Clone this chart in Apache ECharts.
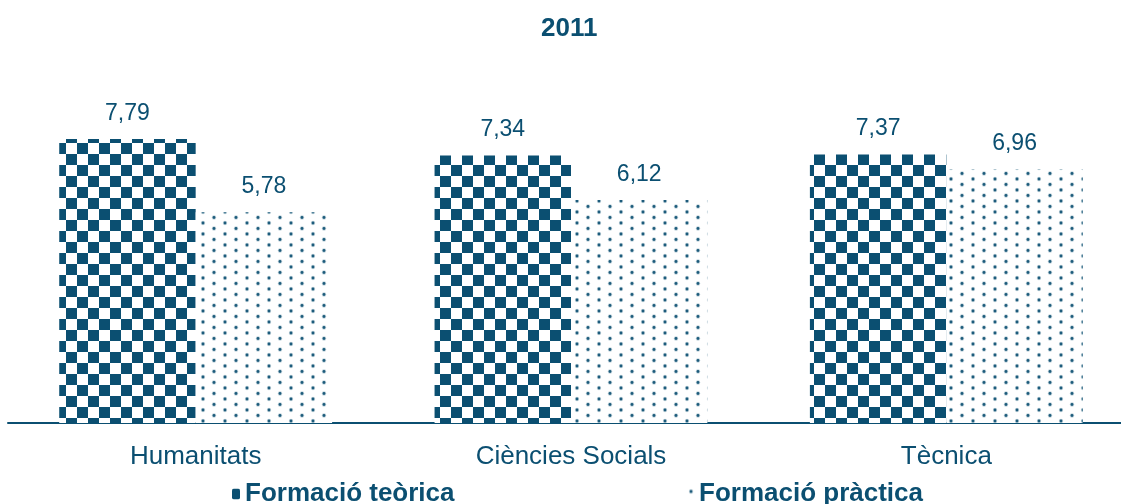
<!DOCTYPE html>
<html>
<head>
<meta charset="utf-8">
<script src="https://cdn.jsdelivr.net/npm/echarts@6/dist/echarts.min.js"></script>
<style>html,body{margin:0;padding:0;background:#fff}#c{width:1121px;height:504px}</style>
</head>
<body>
<div id="c"></div>
<script>
const titleText = '2011';
const categories = ['Humanitats', 'Ciències Socials', 'Tècnica'];
const seriesNames = ['Formació teòrica', 'Formació pràctica'];
const teorica = [7.79, 7.34, 7.37];
const practica = [5.78, 6.12, 6.96];

const MAIN = '#0b4f71';
const FONT = 'Liberation Sans';

function checker() {
  const c = document.createElement('canvas');
  c.width = 22; c.height = 22;
  const g = c.getContext('2d');
  g.fillStyle = '#fff'; g.fillRect(0, 0, 22, 22);
  g.fillStyle = MAIN;
  g.fillRect(0, 0, 11, 11);
  g.fillRect(11, 11, 11, 11);
  return c;
}
function dots() {
  const c = document.createElement('canvas');
  c.width = 22; c.height = 11;
  const g = c.getContext('2d');
  g.fillStyle = '#fff'; g.fillRect(0, 0, 22, 11);
  [[5, 3], [16, 8.5]].forEach(p => {
    g.fillStyle = 'rgba(11,79,113,0.25)';
    g.beginPath(); g.arc(p[0], p[1], 2.2, 0, Math.PI * 2); g.fill();
    g.fillStyle = 'rgba(11,79,113,0.9)';
    g.beginPath(); g.arc(p[0], p[1], 1.4, 0, Math.PI * 2); g.fill();
  });
  return c;
}
const pat1 = { image: checker(), repeat: 'repeat' };
const pat2 = { image: dots(), repeat: 'repeat' };

const fmt = p => p.value.toFixed(2).replace('.', ',');
const labelCfg = { show: true, position: 'top', distance: 14, color: MAIN, fontSize: 23, fontFamily: FONT, formatter: fmt };
const legendText = { color: MAIN, fontSize: 26, fontWeight: 'bold', fontFamily: FONT };

const chart = echarts.init(document.getElementById('c'), null, { renderer: 'canvas' });
chart.setOption({
  animation: false,
  title: { text: titleText, left: 536, top: 11, textStyle: { color: MAIN, fontSize: 26, fontWeight: 'bold', fontFamily: FONT } },
  legend: [
    { data: [seriesNames[0]], left: 227, top: 476, itemWidth: 8, itemHeight: 11, itemGap: 0, textStyle: legendText },
    { data: [seriesNames[1]], left: 681, top: 476, itemWidth: 8, itemHeight: 11, itemGap: 0, textStyle: legendText }
  ],
  grid: { left: 8, width: 1126, top: 95, bottom: 81, containLabel: false, outerBoundsMode: 'none' },
  xAxis: {
    type: 'category', data: categories,
    axisLine: { show: true, lineStyle: { color: MAIN, width: 2 } },
    axisTick: { show: false },
    axisLabel: { color: MAIN, fontSize: 26, fontFamily: FONT, margin: 21 }
  },
  yAxis: { type: 'value', min: 0, max: 9, show: false, splitLine: { show: false } },
  series: [
    { name: seriesNames[0], type: 'bar', data: teorica, barGap: '0%', barCategoryGap: '27.3%',
      itemStyle: { color: pat1 }, label: labelCfg },
    { name: seriesNames[1], type: 'bar', data: practica, barGap: '0%', barCategoryGap: '27.3%',
      itemStyle: { color: pat2 }, label: labelCfg }
  ]
});
</script>
</body>
</html>
